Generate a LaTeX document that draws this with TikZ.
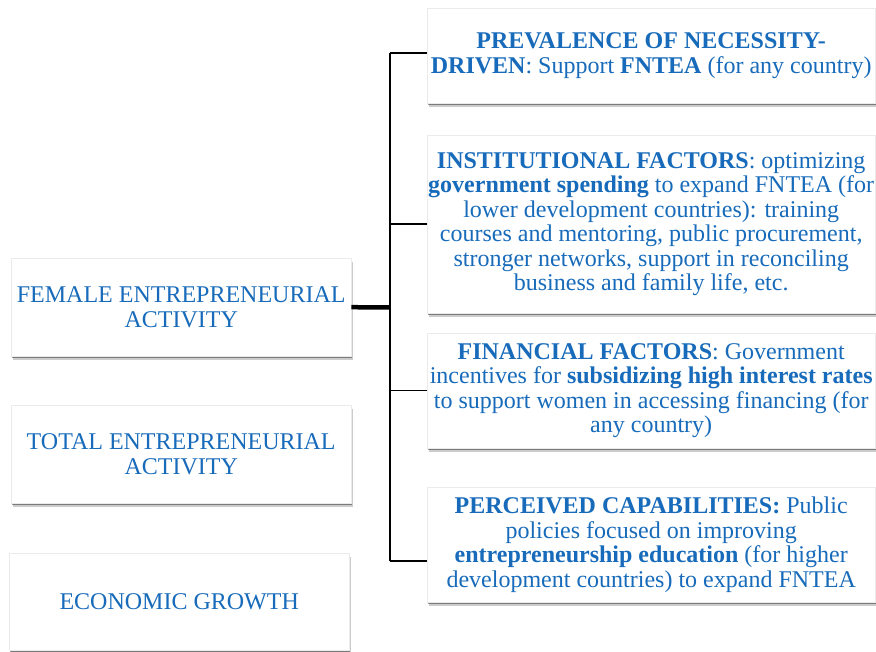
\documentclass[tikz,border=0pt]{standalone}
\usepackage{fontspec}
\setmainfont{Liberation Serif}
\usetikzlibrary{shadows}
\definecolor{fblue}{RGB}{23,107,186}

\begin{document}
\begin{tikzpicture}[
			x=1pt, y=1pt,
			box/.style={rectangle, draw=black!8, fill=white, inner sep=0pt, anchor=north west,
				text=fblue, align=center, font=\fontsize{24}{24.5}\selectfont,
				drop shadow={shadow xshift=1.5pt, shadow yshift=-3.5pt, fill=black, opacity=0.2},
				drop shadow={shadow xshift=1pt, shadow yshift=-2pt, fill=black, opacity=0.4}},
			leftbox/.style={box, minimum width=340pt, minimum height=98pt},
			rightbox/.style={box, minimum width=448pt},
			trunk/.style={line width=4.5pt},
			branch/.style={line width=1.6pt}
		]
		\useasboundingbox (0,0) rectangle (876,-652);

		% left column
		\node[leftbox] (fea) at (11,-258) {FEMALE ENTREPRENEURIAL\\ACTIVITY};
		\node[leftbox] (tea) at (11,-405) {TOTAL ENTREPRENEURIAL\\ACTIVITY};
		\node[leftbox, minimum height=97pt] (growth) at (9,-553) {ECONOMIC GROWTH};

		% right column
		\node[rightbox, minimum height=95pt] (nec) at (427,-8)
		{\textbf{PREVALENCE OF NECESSITY-}\\\textbf{DRIVEN}: Support \textbf{FNTEA} (for any country)};
		\node[rightbox, minimum height=178pt] (inst) at (427,-135)
		{\textbf{INSTITUTIONAL FACTORS}: optimizing\\\textbf{government spending} to expand FNTEA (for\\lower development countries): training\\courses and mentoring, public procurement,\\stronger networks, support in reconciling\\business and family life, etc.};
		\node[rightbox, minimum height=115pt] (fin) at (427,-333)
		{\textbf{FINANCIAL FACTORS}: Government\\incentives for \textbf{subsidizing high interest rates}\\to support women in accessing financing (for\\any country)};
		\node[rightbox, minimum height=115pt] (cap) at (427,-487)
		{\textbf{PERCEIVED CAPABILITIES:} Public\\policies focused on improving\\\textbf{entrepreneurship education} (for higher\\development countries) to expand FNTEA};

		% fork
		\coordinate (split) at (390,-307.5);
		\coordinate (top) at (390,-53);
		\coordinate (bottom) at (390,-561);
		\draw[trunk] (fea.east) -- (split);
		\draw[branch] (top) -- (bottom);
		\draw[branch] (top) -- (top -| nec.west);
		\draw[branch] (split) |- (inst.west);
		\draw[branch] (split) |- (fin.west);
		\draw[branch] (bottom) -- (bottom -| cap.west);
	\end{tikzpicture}
\end{document}
